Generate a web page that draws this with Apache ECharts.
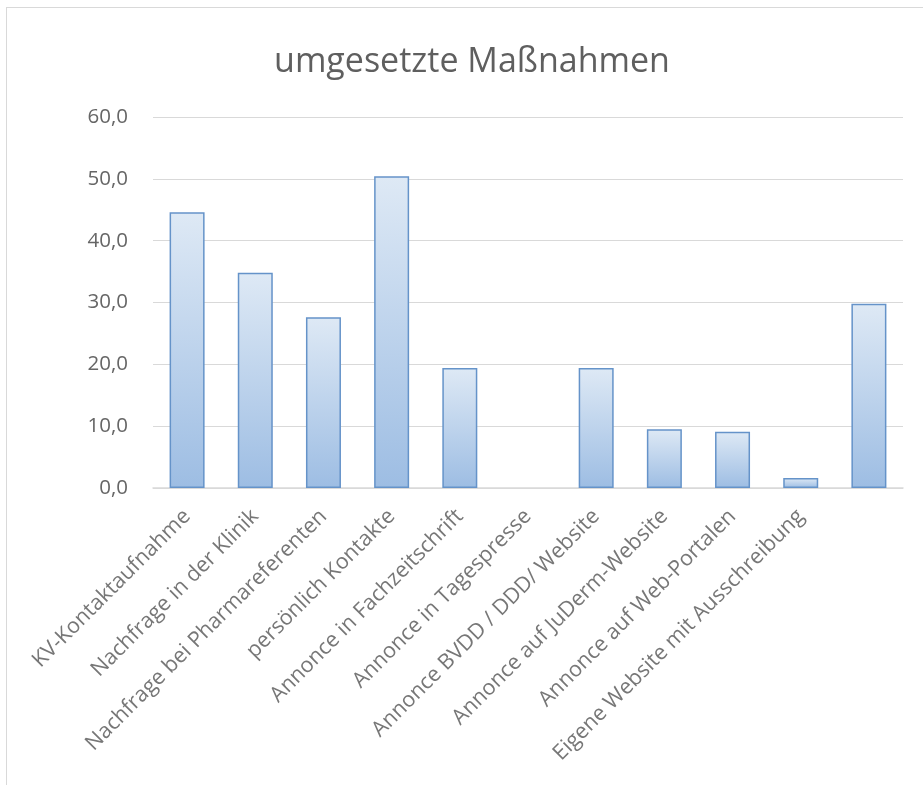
<!DOCTYPE html>
<html>
<head>
<meta charset="utf-8">
<script src="https://cdn.jsdelivr.net/npm/echarts@6/dist/echarts.min.js"></script>
<style>
html,body{margin:0;padding:0;background:#fff;}
#frame{position:absolute;left:6px;top:7px;width:930px;height:790px;border:1px solid #d9d9d9;box-sizing:border-box;}
#chart{position:absolute;left:0;top:0;width:923px;height:785px;}
</style>
</head>
<body>
<div id="frame"></div>
<div id="chart"></div>
<script>
const titleText = 'umgesetzte Maßnahmen';
const categories = [
  'KV-Kontaktaufnahme',
  'Nachfrage in der Klinik',
  'Nachfrage bei Pharmareferenten',
  'persönlich Kontakte',
  'Annonce in Fachzeitschrift',
  'Annonce in Tagespresse',
  'Annonce BVDD / DDD/ Website',
  'Annonce auf JuDerm-Website',
  'Annonce auf Web-Portalen',
  'Eigene Website mit Ausschreibung',
  ''
];
const values = [44.6, 34.8, 27.6, 50.4, 19.4, 0, 19.4, 9.5, 9.1, 1.6, 29.8];

const chart = echarts.init(document.getElementById('chart'));
chart.setOption({
  animation: false,
  title: {
    text: titleText,
    left: 467, top: 40, textAlign: 'center',
    textStyle: {fontFamily: 'Open Sans', fontSize: 34, fontWeight: 'normal', color: '#5f5f5f'}
  },
  grid: {left: 153, right: 20, top: 117, bottom: 297},
  xAxis: {
    type: 'category',
    data: categories,
    axisLine: {lineStyle: {color: '#d9d9d9', width: 1.5}},
    axisTick: {show: false},
    axisLabel: {
      interval: 0, rotate: 45, margin: 25,
      fontFamily: 'Open Sans', fontSize: 21.5, color: '#777777'
    }
  },
  yAxis: {
    type: 'value', min: 0, max: 60, interval: 10,
    axisLine: {show: false},
    axisTick: {show: false},
    splitLine: {lineStyle: {color: '#d9d9d9', width: 1.2}},
    axisLabel: {
      margin: 25,
      fontFamily: 'Open Sans', fontSize: 20.5, color: '#666666',
      formatter: v => v.toFixed(1).replace('.', ',')
    }
  },
  series: [{
    type: 'bar',
    data: values.map(v => v === 0 ? {value: v, itemStyle: {borderWidth: 0, opacity: 0}} : v),
    barWidth: 35,
    itemStyle: {
      borderColor: '#6593c9',
      borderWidth: 1.5,
      color: new echarts.graphic.LinearGradient(0, 0, 0, 1, [
        {offset: 0, color: '#dee9f5'},
        {offset: 1, color: '#9dbde3'}
      ])
    }
  }]
});
</script>
</body>
</html>
